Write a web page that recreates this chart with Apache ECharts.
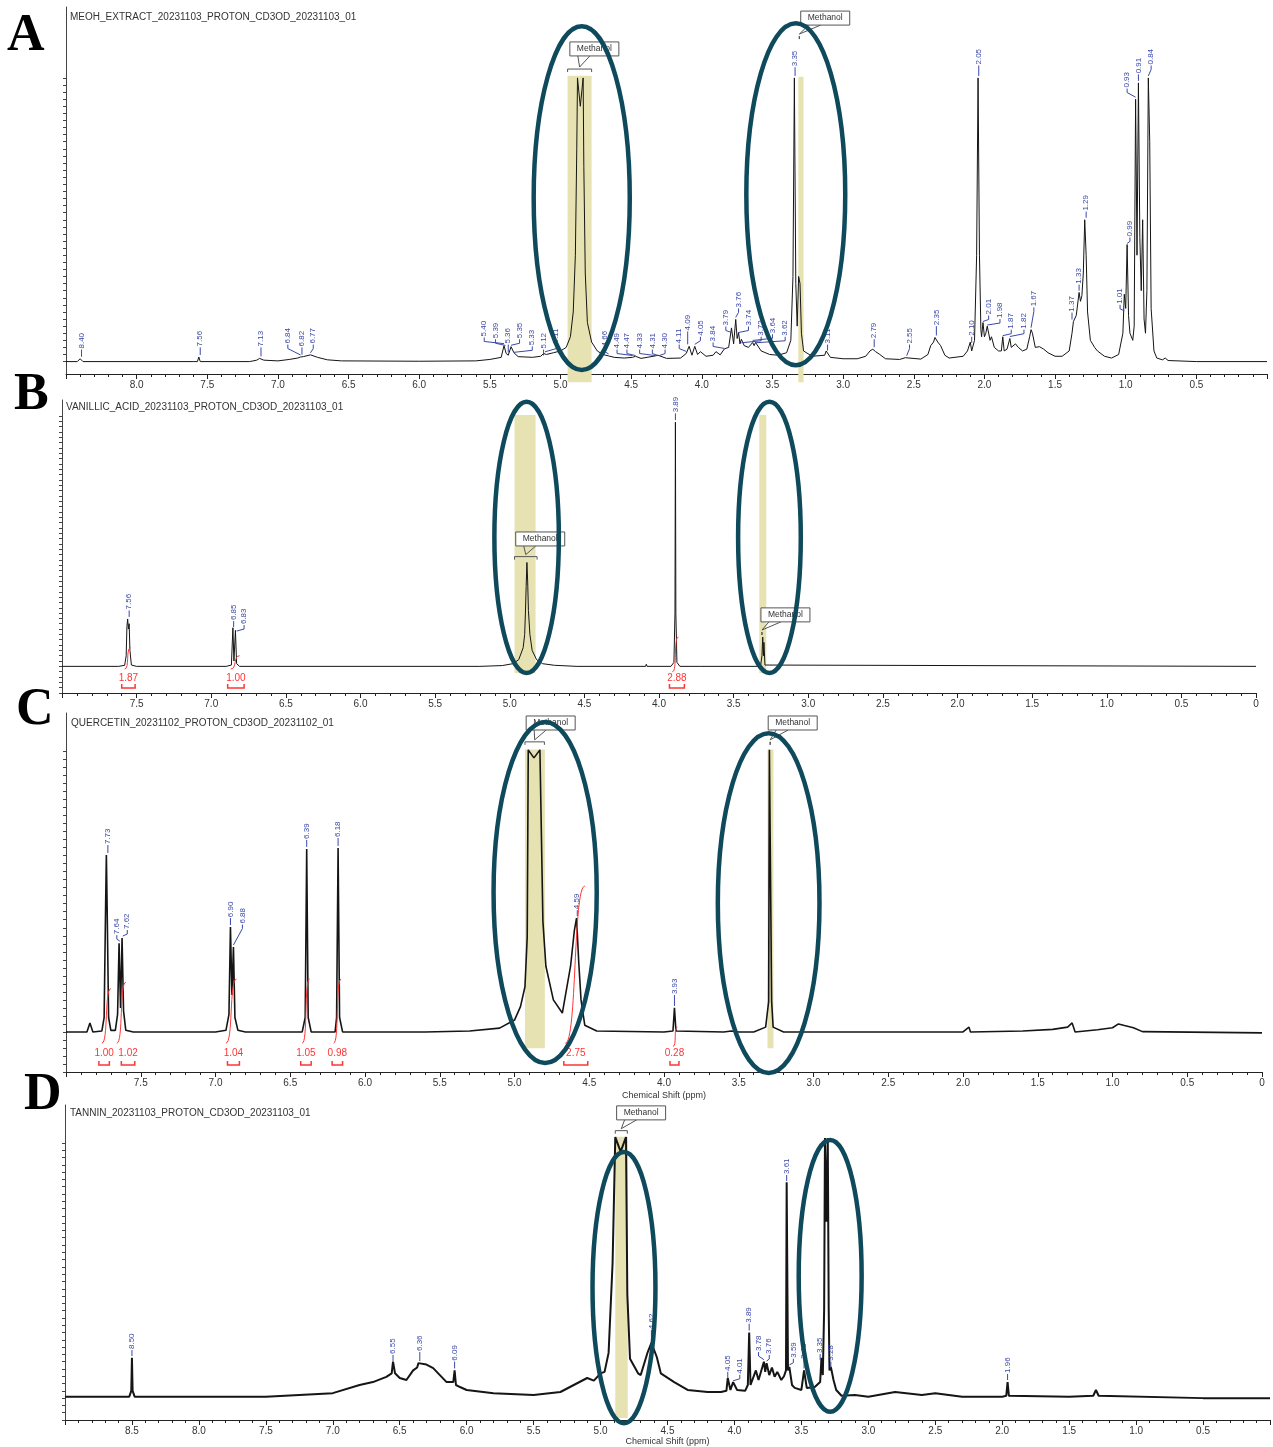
<!DOCTYPE html>
<html>
<head>
<meta charset="utf-8">
<script src="https://cdn.jsdelivr.net/npm/echarts@6/dist/echarts.min.js"></script>
<style>
  html, body { margin: 0; padding: 0; background: #fff; }
  #main { width: 1273px; height: 1447px; }
</style>
</head>
<body>
<div id="main"></div>
<script>
// spectra, [ppm, intensity]
const specA = [
  [8.5,0],[8.42,0],[8.40,0.8],[8.38,0],[7.6,0],[7.57,0],[7.56,1.3],[7.55,0],
  [7.2,0],[7.15,0.4],[7.13,0.9],[7.10,0.4],[7.0,0.2],[6.92,0.6],[6.86,1.0],[6.84,1.3],[6.82,1.4],[6.77,1.9],[6.72,1.2],[6.65,0.5],[6.55,0.2],
  [6.0,0.1],[5.6,0.2],[5.5,0.6],[5.42,1.2],[5.40,4.5],[5.385,2.3],[5.37,1.8],[5.35,4.2],[5.33,2.5],[5.30,1.4],[5.2,1.2],[5.14,1.5],[5.12,2.3],[5.10,2.0],[5.05,2.5],
  [5.0,3.0],[4.96,4.0],[4.93,7],[4.91,14],[4.895,30],[4.885,60],[4.88,80],[4.86,72],[4.84,80],[4.835,55],[4.825,25],[4.81,11],[4.78,5.5],[4.74,3],[4.70,2.0],
  [4.66,1.6],[4.62,1.2],[4.55,1.0],[4.49,1.2],[4.47,1.5],[4.43,0.9],[4.33,1.6],[4.31,1.8],[4.30,1.5],[4.25,0.9],[4.15,1.0],[4.11,2.3],[4.10,1.8],[4.09,4.3],
  [4.07,1.8],[4.05,4.3],[4.03,2],[4.01,2.8],[3.97,1.5],[3.92,1.8],[3.90,2.8],[3.87,1.9],[3.84,3.6],[3.81,4],[3.79,9.5],[3.775,5],[3.76,11.9],[3.75,6.5],
  [3.74,8.2],[3.73,5],[3.72,6.3],[3.70,4.5],[3.67,4],[3.64,5.4],[3.63,4.5],[3.62,5.4],[3.58,3],[3.52,2],[3.46,1.8],[3.40,2.5],[3.37,6],[3.355,24],[3.345,80],
  [3.335,22],[3.325,10],[3.315,24],[3.305,22],[3.295,8],[3.28,3],[3.22,1.5],[3.13,1.8],[3.12,3],[3.11,2.5],[3.09,1.2],[3.0,0.8],[2.90,0.8],[2.84,1.5],
  [2.81,3],[2.79,3.5],[2.77,2.8],[2.74,2.0],[2.70,0.8],[2.60,0.6],[2.56,1.1],[2.55,0.6],[2.45,0.7],[2.40,2],[2.38,4.5],[2.36,5.5],[2.35,6.8],[2.33,5.5],
  [2.31,4.5],[2.28,1.8],[2.25,1.0],[2.15,1.5],[2.12,3],[2.10,5.5],[2.09,3],[2.07,6],[2.055,30],[2.045,80],[2.035,30],[2.025,9],[2.02,7],[2.01,11],[2.00,7],
  [1.99,8],[1.98,10],[1.96,6],[1.95,7],[1.93,4],[1.90,3],[1.88,3],[1.87,7],[1.86,3],[1.84,3.5],[1.82,6.5],[1.81,4],[1.78,5],[1.76,4],[1.73,3],[1.70,3.5],
  [1.68,7],[1.67,9],[1.66,8],[1.64,4],[1.61,4.2],[1.58,3.5],[1.55,2.5],[1.50,1.5],[1.45,1.5],[1.40,3],[1.38,8],[1.37,11.3],[1.35,13],[1.33,19.5],[1.32,17],
  [1.31,18.6],[1.30,25],[1.29,40],[1.28,30],[1.27,14],[1.25,6],[1.24,6],[1.22,4],[1.20,3],[1.15,1.5],[1.10,1.0],[1.05,2],[1.02,8],[1.01,19],[1.00,15],
  [0.99,33],[0.98,13],[0.97,8],[0.96,8],[0.95,6],[0.94,10],[0.93,74],[0.92,30],[0.91,78.6],[0.90,35],[0.89,20],[0.88,40],[0.87,12],[0.86,8],[0.85,20],
  [0.84,80],[0.83,62],[0.82,15],[0.80,3],[0.78,1],[0.74,0.5],[0.72,1],[0.70,0.3],[0.5,0],[0,0]
];
const specB = [
  [8,0],[7.62,0],[7.58,0.4],[7.57,4],[7.565,15],[7.56,17.8],[7.555,14],[7.55,16],[7.545,6],[7.535,0.5],[7.50,0],
  [6.9,0],[6.865,0.5],[6.855,14.5],[6.848,2],[6.838,13.5],[6.83,1],[6.81,0],
  [5.2,0],[5.05,0.3],[4.98,1],[4.94,2.5],[4.91,7],[4.90,12],[4.895,20],[4.89,30],[4.885,39],[4.88,32],[4.875,21],[4.865,12],[4.85,6],[4.82,2.5],[4.78,1],[4.70,0.4],[4.55,0],
  [4.09,0],[4.085,0.8],[4.08,0],[3.92,0],[3.90,1.5],[3.893,20],[3.89,91.7],[3.887,20],[3.88,1.5],[3.86,0],[3.72,0],[3.715,0.6],[3.71,0],
  [3.32,0],[3.31,4],[3.305,11],[3.30,4],[3.297,9],[3.29,0.5],[3.28,0],[0,0]
];
const specC = [
  [8,0.5],[7.86,0.5],[7.84,3.3],[7.82,0.5],[7.76,0.8],[7.745,5],[7.735,40],[7.73,55.7],[7.725,40],[7.715,5],[7.70,1],[7.67,1],[7.655,6],[7.645,28.2],
  [7.635,8],[7.625,29.8],[7.615,7],[7.60,1],[7.55,0.5],[7.0,0.5],[6.93,1],[6.91,6],[6.90,33.2],[6.89,12],[6.88,27],[6.87,5],[6.85,1],[6.8,0.5],
  [6.42,0.5],[6.40,5],[6.39,57.6],[6.38,5],[6.36,0.5],[6.2,0.5],[6.19,5],[6.18,57.9],[6.17,5],[6.15,0.5],[5.6,0.5],[5.3,0.8],[5.1,1.7],
  [5.0,4.2],[4.96,8.4],[4.93,14.6],[4.915,30],[4.908,88.5],[4.87,86],[4.83,88.5],[4.81,35],[4.79,21],[4.74,10.5],[4.68,6.4],[4.625,21],[4.60,32],
  [4.585,36],[4.57,22],[4.555,10.5],[4.53,2.6],[4.45,0.8],[4.0,0.5],[3.94,0.8],[3.93,8],[3.92,0.8],[3.6,0.5],[3.55,0.8],[3.5,0.5],[3.4,0.5],
  [3.32,2],[3.30,10],[3.295,88.5],[3.285,88.5],[3.28,10],[3.27,2],[3.2,0.5],[2.0,0.5],[1.96,2],[1.95,0.5],[1.6,0.8],[1.4,1.3],[1.3,2.0],[1.27,3.3],
  [1.25,0.5],[1.1,1.2],[1.0,1.8],[0.96,3],[0.92,2.5],[0.86,1.8],[0.8,0.6],[0,0.2]
];
const specD = [
  [9,0],[8.52,0],[8.505,2],[8.50,13.3],[8.495,2],[8.48,0],[8.0,0],[7.5,0],[7.0,1.2],[6.8,4],[6.7,5],[6.6,6.8],[6.56,8],[6.55,12],[6.535,8],[6.5,6.4],
  [6.45,5.7],[6.4,9],[6.37,10],[6.36,11.5],[6.3,11],[6.25,9.8],[6.2,7.4],[6.15,5],[6.1,5],[6.09,9],[6.08,4],[6.05,3.3],[6.0,2.3],[5.8,1.2],[5.5,0.6],
  [5.3,1.6],[5.2,4],[5.1,6.4],[5.05,5.5],[5.0,8],[4.97,8.5],[4.94,15],[4.91,46],[4.89,89],[4.85,84],[4.81,89],[4.80,35],[4.78,13],[4.72,8],[4.70,7.4],
  [4.65,15],[4.62,18.4],[4.58,13.6],[4.55,8],[4.45,5],[4.35,2.3],[4.2,1.6],[4.1,1.6],[4.06,2],[4.05,6.4],[4.03,2.3],[4.01,5],[3.98,2.3],[3.92,2],
  [3.90,4],[3.89,22],[3.88,4],[3.87,4],[3.84,9],[3.82,5.7],[3.78,12],[3.77,8.5],[3.76,11.5],[3.74,7.4],[3.72,10],[3.70,6.8],[3.68,8.5],[3.65,5.7],
  [3.63,7],[3.615,9],[3.61,73.5],[3.60,9],[3.59,10.2],[3.57,4],[3.55,3],[3.50,2.3],[3.48,9],[3.46,3],[3.40,3.3],[3.36,5],[3.35,13.3],[3.34,7.4],
  [3.33,30],[3.324,88.7],[3.313,60],[3.303,88.7],[3.296,30],[3.29,9],[3.28,10.2],[3.26,5.7],[3.24,2.3],[3.20,0.3],[3.1,0.6],[3.0,0],[2.8,1.6],
  [2.6,0.6],[2.5,1.2],[2.3,0],[2.0,0],[1.97,0.3],[1.96,5],[1.95,0.3],[1.5,0],[1.32,0.3],[1.30,2.3],[1.28,0.3],[0.5,-0.5],[0,-0.5]
];

// peak picks: [peak ppm, label ppm, label base height, peak top height]
const picksA = [
  [8.40,8.39,3.4,0.8],[7.56,7.55,4,1.3],[7.13,7.12,4,0.9],[6.84,6.93,4.8,1.3],[6.82,6.83,4,1.4],[6.77,6.75,4.8,1.9],
  [5.40,5.54,6.8,4.5],[5.39,5.46,6.3,4.0],[5.36,5.37,4.8,2],[5.35,5.29,6.3,4.2],[5.33,5.20,4.3,2.5],[5.12,5.12,3.4,2.3],[5.11,5.03,4.8,2.2],
  [4.66,4.69,4,1.6],[4.49,4.60,3.4,1.2],[4.47,4.53,3.4,1.5],[4.33,4.44,3.4,1.6],[4.31,4.35,3.4,1.8],[4.30,4.26,3.4,1.5],
  [4.11,4.16,4.8,2.3],[4.09,4.10,8.5,4.3],[4.05,4.01,7,4.3],[3.84,3.92,5.4,3.6],[3.79,3.83,9.9,9.5],[3.76,3.74,15,11.9],[3.74,3.67,9.9,8.2],
  [3.72,3.58,7,6.3],[3.64,3.50,7.7,5.4],[3.62,3.41,7,5.4],[3.35,3.34,83,80],[3.11,3.11,4.8,3],[2.79,2.78,6.3,3.5],[2.55,2.53,4.8,1.1],
  [2.35,2.34,10,6.8],[2.10,2.09,7,5.5],[2.05,2.04,83.5,80],[2.01,1.97,13,11],[1.98,1.89,12,10],[1.87,1.81,9,7],[1.82,1.72,9,6.5],
  [1.67,1.65,15.3,9],[1.37,1.38,13.8,11.3],[1.33,1.33,21.7,19.5],[1.29,1.28,42.3,40],[1.01,1.04,16,19],[0.99,0.97,35,33],
  [0.93,0.99,77,74],[0.91,0.91,81,78.6],[0.84,0.82,83.5,80]
];
const picksB = [[7.56,7.55,21,17.8],[6.85,6.85,17,14.5],[6.83,6.78,15.5,13.5],[3.89,3.89,95,91.7]];
const picksC = [
  [7.73,7.72,58.8,55.7],[7.64,7.66,30.7,28.2],[7.62,7.59,32.3,29.8],[6.90,6.90,36,33.2],[6.88,6.82,34,27],
  [6.39,6.39,60.4,57.6],[6.18,6.18,61,57.9],[4.59,4.58,38.5,36],[3.93,3.93,12,8]
];
const picksD = [
  [8.50,8.50,16,13.3],[6.55,6.55,14.3,12],[6.36,6.35,15.3,11.5],[6.09,6.09,12,9],[4.62,4.62,22.8,18.4],[4.05,4.05,8.5,6.4],
  [4.01,3.96,7.5,5],[3.89,3.89,25,22],[3.78,3.82,15.3,12],[3.76,3.74,14.3,11.5],[3.61,3.61,76,73.5],[3.59,3.56,13,10.2],
  [3.48,3.48,12.6,9],[3.35,3.36,14.6,13.3],[3.28,3.28,12,10.2],[1.96,1.96,7.8,5]
];

// integrals: [value, from ppm, to ppm]; curves: [ppm, h, ppm, h]
const integB = [[1.87,7.60,7.51],[1.00,6.89,6.78],[2.88,3.93,3.83]];
const curvesB = [[7.58,-1,7.54,7],[6.87,-1,6.81,4],[3.91,-2,3.87,11]];
const integC = [[1.00,7.78,7.71],[1.02,7.63,7.54],[1.04,6.92,6.84],[1.05,6.43,6.36],[0.98,6.22,6.15],[2.75,4.67,4.51],[0.28,3.96,3.90]];
const curvesC = [[7.76,-3,7.70,14],[7.66,-3,7.60,16],[6.93,-3,6.86,17],[6.42,-3,6.37,17],[6.21,-3,6.16,17],[4.66,-3,4.53,46],[3.94,-4,3.91,2]];

// solvent bands [ppm left, ppm right, bottom, top]
const bandsA = [[4.95,4.78,-5.8,80.6],[3.317,3.28,-5.8,80.3]];
const bandsB = [[4.968,4.827,-2.5,94.4],[3.328,3.281,-2.5,94.4]];
const bandsC = [[4.93,4.797,-4.6,88.6],[3.308,3.268,-4.6,88.6]];
const bandsD = [[4.89,4.797,-7.3,89.1]];

// "Methanol" callouts [box ppm, box bottom, bracket from, bracket to, bracket h]
const calloutsA = [[4.934,86.2,4.95,4.78,82.5],[3.30,94.9,3.31,3.31,91.8]];
const calloutsB = [[4.96,45.2,4.968,4.817,41.2],[3.317,16.7,3.31,3.31,12.9]];
const calloutsC = [[4.922,94.7,4.93,4.80,91],[3.303,94.7,3.29,3.29,91]];
const calloutsD = [[4.88,94.9,4.89,4.80,91.2]];

// rings [ppm, h, ppm radius, h radius]
const ringsA = [[4.85,46.1,0.34,48.5],[3.335,47.2,0.35,48.2]];
const ringsB = [[4.887,48.4,0.216,50.9],[3.26,48.4,0.21,50.9]];
const ringsC = [[4.795,44,0.345,53.2],[3.30,40.7,0.34,53]];
const ringsD = [[4.825,37.4,0.235,46.5],[3.285,41.4,0.235,46.6]];

const panelNames = [
  'MEOH_EXTRACT_20231103_PROTON_CD3OD_20231103_01',
  'VANILLIC_ACID_20231103_PROTON_CD3OD_20231103_01',
  'QUERCETIN_20231102_PROTON_CD3OD_20231102_01',
  'TANNIN_20231103_PROTON_CD3OD_20231103_01'
];
const letters = ['A', 'B', 'C', 'D'];

const SANS = '"Liberation Sans", Arial, sans-serif';
const BLUE = '#3a48a8';
const RED = '#ff3535';

function tickList(a, b, s) {
  const out = [];
  for (let v = a; v <= b + 1e-9; v += s) out.push(+v.toFixed(3));
  return out;
}

function xAx(i, max, showMin, name, gap) {
  return {
    type: 'value', gridIndex: i, inverse: true, min: 0, max: max, interval: 0.5,
    axisLine: { onZero: false, lineStyle: { color: '#222', width: 1 } },
    axisTick: { length: 5, lineStyle: { color: '#222' } },
    minorTick: { show: true, splitNumber: 5, length: 3, lineStyle: { color: '#222' } },
    axisLabel: {
      fontSize: 10, color: '#333', fontFamily: SANS, margin: 6,
      showMaxLabel: false, showMinLabel: showMin,
      formatter: v => (v === 0 ? '0' : v.toFixed(1))
    },
    splitLine: { show: false },
    name: name || '', nameLocation: 'middle', nameGap: gap || 18,
    nameTextStyle: { fontSize: 9, color: '#333', fontFamily: SANS }
  };
}

function yAx(i, min, ticks) {
  return {
    type: 'value', gridIndex: i, min: min, max: 100, position: 'left',
    axisLine: { show: true, onZero: false, lineStyle: { color: '#444', width: 1 } },
    axisTick: { show: true, length: 3, customValues: ticks, lineStyle: { color: '#444' } },
    axisLabel: { show: false },
    splitLine: { show: false }
  };
}

function specSeries(i, data, width) {
  return {
    type: 'line', xAxisIndex: i, yAxisIndex: i, data: data, z: 3,
    symbol: 'none', showSymbol: false, silent: true,
    lineStyle: { color: '#151515', width: width }
  };
}

function bandSeries(i, data) {
  return {
    type: 'custom', xAxisIndex: i, yAxisIndex: i, z: 1, silent: true, data: data,
    renderItem(params, api) {
      const a = api.coord([api.value(0), api.value(3)]);
      const b = api.coord([api.value(1), api.value(2)]);
      return {
        type: 'rect',
        shape: { x: Math.min(a[0], b[0]), y: a[1], width: Math.abs(b[0] - a[0]), height: b[1] - a[1] },
        style: { fill: '#e7e2b2' }
      };
    }
  };
}

function pickSeries(i, data) {
  return {
    type: 'custom', xAxisIndex: i, yAxisIndex: i, z: 4, silent: true, data: data,
    renderItem(params, api) {
      const pk = api.coord([api.value(0), api.value(3)]);
      const lb = api.coord([api.value(1), api.value(2)]);
      const endY = Math.max(lb[1] + 6, pk[1] - 2);
      const pts = Math.abs(lb[0] - pk[0]) < 1.5
        ? [[lb[0], lb[1]], [lb[0], endY]]
        : [[lb[0], lb[1]], [lb[0], lb[1] + 4], [pk[0], endY]];
      return {
        type: 'group',
        children: [
          { type: 'polyline', shape: { points: pts }, style: { stroke: BLUE, fill: null, lineWidth: 1 } },
          {
            type: 'text', x: lb[0], y: lb[1] - 1, rotation: Math.PI / 2,
            style: { text: api.value(0).toFixed(2), fill: BLUE, font: '8px ' + SANS, align: 'left', verticalAlign: 'middle' }
          }
        ]
      };
    }
  };
}

function calloutSeries(i, data) {
  return {
    type: 'custom', xAxisIndex: i, yAxisIndex: i, z: 6, silent: true, data: data,
    renderItem(params, api) {
      const box = api.coord([api.value(0), api.value(1)]);
      const l = api.coord([api.value(2), api.value(4)]);
      const r = api.coord([api.value(3), api.value(4)]);
      const w = 49, h = 14;
      const mid = (l[0] + r[0]) / 2;
      return {
        type: 'group',
        children: [
          { type: 'polyline', shape: { points: [[l[0], l[1] + 3], [l[0], l[1]], [r[0], r[1]], [r[0], r[1] + 3]] }, style: { stroke: '#555', fill: null, lineWidth: 1 } },
          { type: 'polyline', shape: { points: [[box[0] + 8, box[1]], [mid, l[1] - 2], [box[0] + 20, box[1]]] }, style: { stroke: '#555', fill: null, lineWidth: 1 } },
          { type: 'rect', shape: { x: box[0], y: box[1] - h, width: w, height: h }, style: { fill: '#fff', stroke: '#555', lineWidth: 1 } },
          { type: 'text', x: box[0] + w / 2, y: box[1] - h / 2, style: { text: 'Methanol', font: '8.5px ' + SANS, fill: '#333', align: 'center', verticalAlign: 'middle' } }
        ]
      };
    }
  };
}

function ringSeries(i, data) {
  return {
    type: 'custom', xAxisIndex: i, yAxisIndex: i, z: 8, silent: true, data: data,
    renderItem(params, api) {
      const c = api.coord([api.value(0), api.value(1)]);
      const s = api.size([api.value(2), api.value(3)]);
      return {
        type: 'ellipse',
        shape: { cx: c[0], cy: c[1], rx: Math.abs(s[0]), ry: Math.abs(s[1]) },
        style: { fill: null, stroke: '#0e4a5c', lineWidth: 4.5 }
      };
    }
  };
}

function integralSeries(i, data, textH, brH) {
  return {
    type: 'custom', xAxisIndex: i, yAxisIndex: i, z: 5, silent: true, data: data,
    renderItem(params, api) {
      const c = api.coord([(api.value(1) + api.value(2)) / 2, textH]);
      const l = api.coord([api.value(1), brH]);
      const r = api.coord([api.value(2), brH]);
      return {
        type: 'group',
        children: [
          { type: 'polyline', shape: { points: [[l[0], l[1] - 4], [l[0], l[1]], [r[0], r[1]], [r[0], r[1] - 4]] }, style: { stroke: RED, fill: null, lineWidth: 1.5 } },
          { type: 'text', x: c[0], y: c[1], style: { text: api.value(0).toFixed(2), fill: RED, font: '10px ' + SANS, align: 'center', verticalAlign: 'middle' } }
        ]
      };
    }
  };
}

function curveSeries(i, data) {
  return {
    type: 'custom', xAxisIndex: i, yAxisIndex: i, z: 5, silent: true, data: data,
    renderItem(params, api) {
      const a = api.coord([api.value(0), api.value(1)]);
      const b = api.coord([api.value(2), api.value(3)]);
      const m = [(a[0] + b[0]) / 2, (a[1] + b[1]) / 2];
      return {
        type: 'bezierCurve',
        shape: { x1: a[0], y1: a[1], x2: b[0], y2: b[1], cpx1: m[0] + 2, cpy1: a[1], cpx2: m[0] - 2, cpy2: b[1] },
        style: { stroke: RED, fill: null, lineWidth: 1 }
      };
    }
  };
}

const grids = [
  { left: 66, top: 7, width: 1201, height: 367 },
  { left: 62, top: 400, width: 1194, height: 293 },
  { left: 66, top: 713, width: 1196, height: 359 },
  { left: 65, top: 1105, width: 1205, height: 315 }
];

const letterPos = [[7, 11], [14, 370], [16, 685], [24, 1070]];
const namePos = [[70, 12], [66, 402], [71, 718], [70, 1108]];

const titles = [];
letters.forEach((t, k) => titles.push({
  text: t, left: letterPos[k][0], top: letterPos[k][1], padding: 0,
  textStyle: { fontFamily: '"Liberation Serif", "Times New Roman", serif', fontWeight: 'bold', fontSize: 52, color: '#000' }
}));
panelNames.forEach((t, k) => titles.push({
  text: t, left: namePos[k][0], top: namePos[k][1], padding: 0,
  textStyle: { fontFamily: SANS, fontWeight: 'normal', fontSize: 10, color: '#333' }
}));

const option = {
  animation: false,
  backgroundColor: '#fff',
  title: titles,
  grid: grids,
  xAxis: [
    xAx(0, 8.5, false),
    xAx(1, 8, true),
    xAx(2, 8, true, 'Chemical Shift (ppm)', 19),
    xAx(3, 9, false, 'Chemical Shift (ppm)', 15)
  ],
  yAxis: [
    yAx(0, -3.5, tickList(0, 80, 2)),
    yAx(1, -10, tickList(-10, 94, 2)),
    yAx(2, -12, tickList(-12, 88, 2.5)),
    yAx(3, -8, tickList(-8, 88, 2.5))
  ],
  series: [
    bandSeries(0, bandsA), specSeries(0, specA, 1), pickSeries(0, picksA), calloutSeries(0, calloutsA), ringSeries(0, ringsA),
    bandSeries(1, bandsB), specSeries(1, specB, 1), pickSeries(1, picksB), calloutSeries(1, calloutsB), ringSeries(1, ringsB),
    integralSeries(1, integB, -4.4, -8.1), curveSeries(1, curvesB),
    bandSeries(2, bandsC), specSeries(2, specC, 1.6), pickSeries(2, picksC), calloutSeries(2, calloutsC), ringSeries(2, ringsC),
    integralSeries(2, integC, -6.1, -9.8), curveSeries(2, curvesC),
    bandSeries(3, bandsD), specSeries(3, specD, 2), pickSeries(3, picksD), calloutSeries(3, calloutsD), ringSeries(3, ringsD)
  ]
};

const chart = echarts.init(document.getElementById('main'), null, { renderer: 'canvas' });
chart.setOption(option);
</script>
</body>
</html>
